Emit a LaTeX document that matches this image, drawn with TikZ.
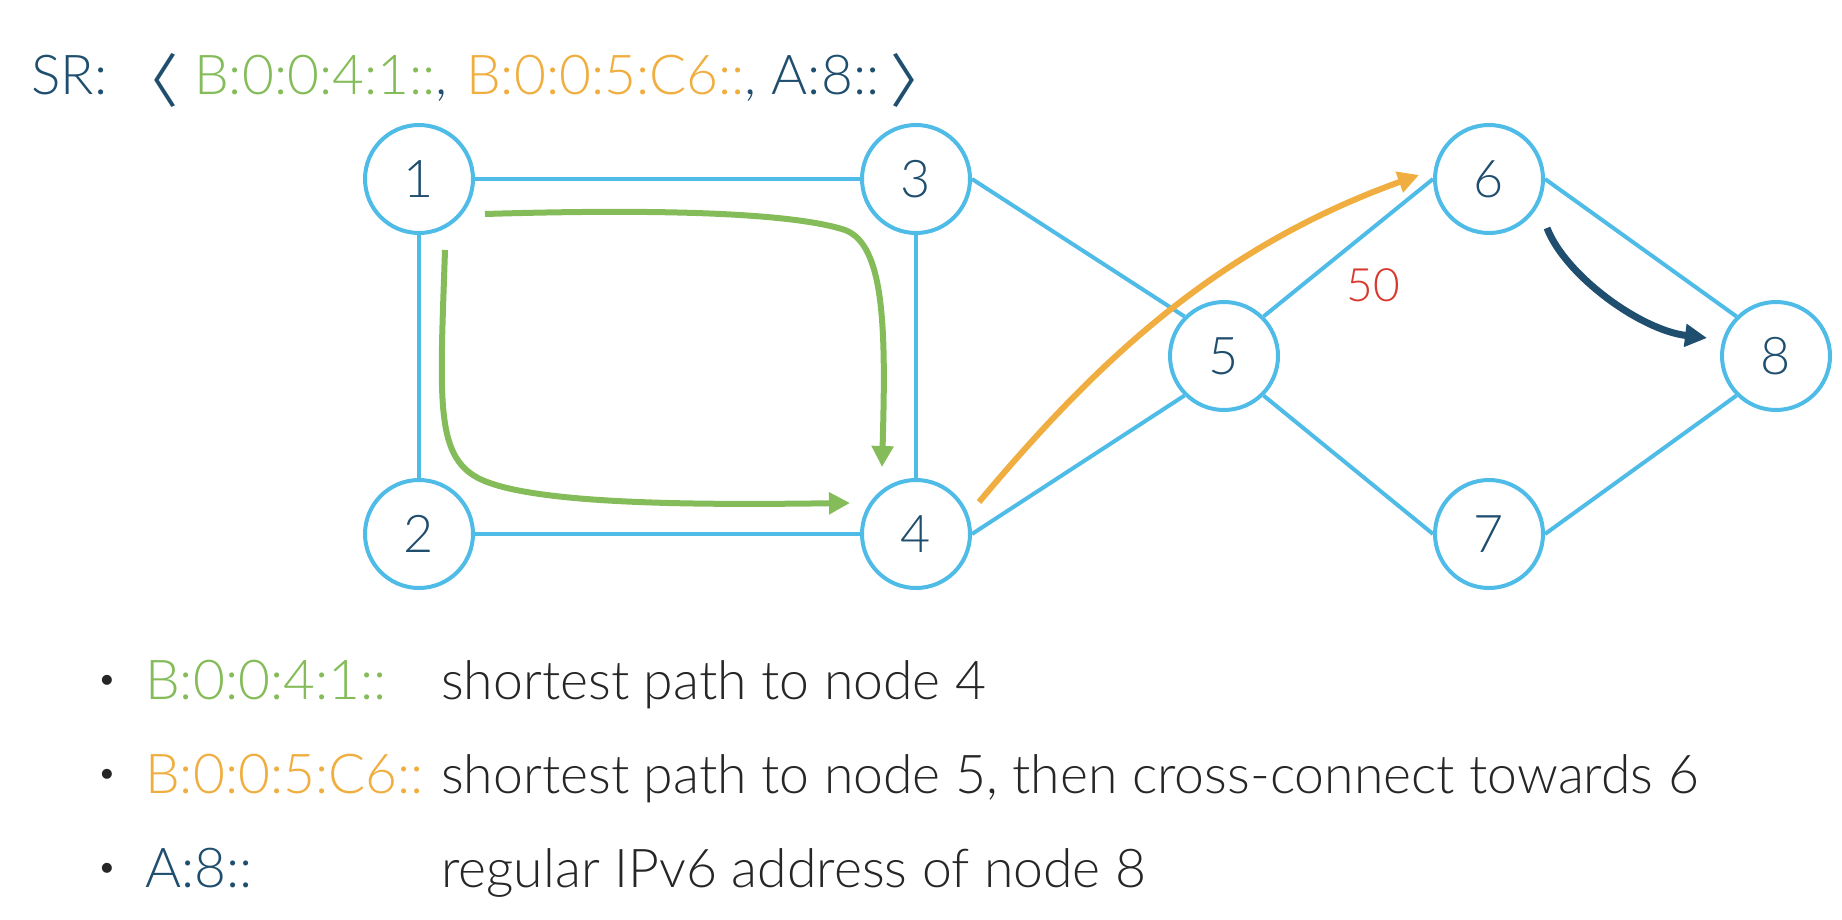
\documentclass[tikz,border=0pt]{standalone}
\usepackage{fontspec}
\IfFontExistsTF{Lato Light}{\setmainfont{Lato Light}}{\setmainfont{Lato}}
\newfontfamily\cjkfont{Noto Sans CJK SC}
\usetikzlibrary{arrows.meta}
\definecolor{edgeblue}{HTML}{4FBCE7}
\definecolor{navy}{HTML}{1F4E6E}
\definecolor{pathgreen}{HTML}{84BC59}
\definecolor{pathorange}{HTML}{F0AE40}
\definecolor{metricred}{HTML}{D7392E}
\definecolor{bodytext}{HTML}{262626}
\begin{document}
\begin{tikzpicture}[x=1pt,y=-1pt,
  router/.style={circle, draw=edgeblue, line width=4pt, minimum size=108pt, inner sep=0pt, fill=white, text=navy, font=\fontsize{52}{60}\selectfont},
  link/.style={draw=edgeblue, line width=4pt},
  greenpath/.style={draw=pathgreen, line width=6pt, -{Triangle[length=21pt,width=21pt]}},
  orangepath/.style={draw=pathorange, line width=6pt, -{Triangle[length=21pt,width=21pt]}},
  navypath/.style={draw=navy, line width=7pt, -{Triangle[length=22pt,width=22pt]}},
  srtext/.style={anchor=base west, inner sep=0pt, font=\fontsize{55}{64}\selectfont},
  bracket/.style={inner sep=0pt, font=\cjkfont\fontsize{58}{66}\selectfont},
  addrtext/.style={anchor=base west, inner sep=0pt, font=\fontsize{55}{64}\selectfont},
  itemtext/.style={anchor=base west, inner sep=0pt, font=\fontsize{53.5}{62}\selectfont},
  bulletdot/.style={inner sep=0pt, text=bodytext, font=\fontsize{34}{40}\selectfont},
  metric/.style={inner sep=0pt, text=metricred, font=\fontsize{46}{54}\selectfont}]
\useasboundingbox (0,0) rectangle (1842,920);

% SR header
\node[srtext, text=navy] (sr) at (31,95) {SR:};
\node[bracket, text=navy] (langle) at (149,80) {〈};
\node[srtext, text=pathgreen] (sidA) at (194,95) {B:0:0:4:1::\textcolor{navy}{,}};
\node[srtext, text=pathorange] (sidB) at (466,95) {B:0:0:5:C6::\textcolor{navy}{, A:8::}};
\node[bracket, text=navy] (rangle) at (919,80) {〉};

% routers
\node[router] (n1) at (419,179) {1};
\node[router] (n3) at (916,179) {3};
\node[router] (n2) at (419,534) {2};
\node[router] (n4) at (916,534) {4};
\node[router] (n5) at (1224,356) {5};
\node[router] (n6) at (1489,179) {6};
\node[router] (n7) at (1489,534) {7};
\node[router] (n8) at (1776,356) {8};

% links
\draw[link] (n1.east) -- (n3.west);
\draw[link] (n1.south) -- (n2.north);
\draw[link] (n2.east) -- (n4.west);
\draw[link] (n3.south) -- (n4.north);
\draw[link] (n3.east) -- (n5.north west);
\draw[link] (n4.east) -- (n5.south west);
\draw[link] (n5.north east) -- (n6.west);
\draw[link] (n5.south east) -- (n7.west);
\draw[link] (n6.east) -- (n8.north west);
\draw[link] (n7.east) -- (n8.south west);

\node[metric] (m56) at (1373,285) {50};

% paths
\coordinate (gA0) at (485,214);
\coordinate (gA1) at (845,230);
\coordinate (gA2) at (882,467);
\draw[greenpath] (gA0) .. controls (650,209) and (790,212) .. (gA1)
  .. controls (885,245) and (886,330) .. (gA2);
\coordinate (gB0) at (445,250);
\coordinate (gB1) at (478,478);
\coordinate (gB2) at (850,503);
\draw[greenpath] (gB0) .. controls (440,400) and (435,455) .. (gB1)
  .. controls (530,505) and (700,505) .. (gB2);
\coordinate (o0) at (979,502);
\coordinate (o1) at (1419,175);
\draw[orangepath] (o0) .. controls (1090,370) and (1210,250) .. (o1);
\coordinate (d0) at (1547,228);
\coordinate (d1) at (1707,338);
\draw[navypath] (d0) .. controls (1565,275) and (1640,330) .. (d1);

% legend
\node[bulletdot] (b1) at (107,683) {•};
\node[addrtext, text=pathgreen] (a1) at (145,699) {B:0:0:4:1::};
\node[itemtext, text=bodytext] (t1) at (441,699) {shortest path to node 4};
\node[bulletdot] (b2) at (107,777) {•};
\node[addrtext, text=pathorange] (a2) at (145,793) {B:0:0:5:C6::};
\node[itemtext, text=bodytext] (t2) at (441,793) {shortest path to node 5, then cross-connect towards 6};
\node[bulletdot] (b3) at (107,871) {•};
\node[addrtext, text=navy] (a3) at (145,887) {A:8::};
\node[itemtext, text=bodytext] (t3) at (441,887) {regular IPv6 address of node 8};
\end{tikzpicture}
\end{document}
